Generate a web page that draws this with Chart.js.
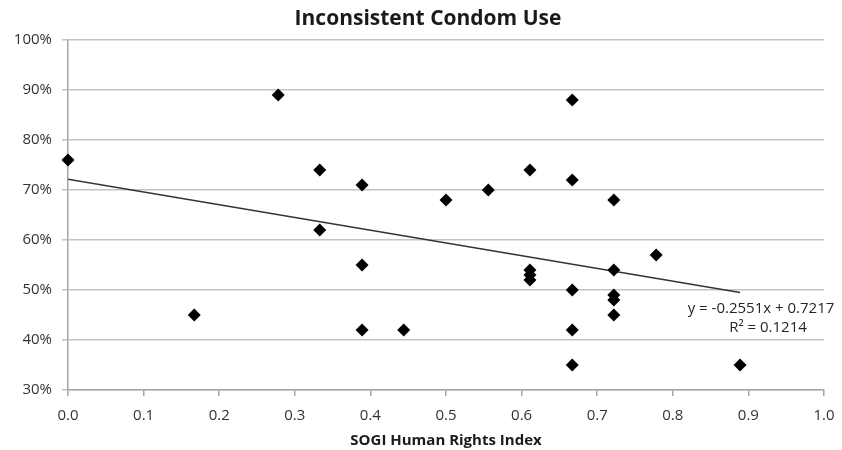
<!DOCTYPE html>
<html>
<head>
<meta charset="utf-8">
<script src="https://cdn.jsdelivr.net/npm/chart.js@4/dist/chart.umd.min.js"></script>
<style>
  html, body { margin: 0; padding: 0; background: #fff; }
  #wrap { width: 842px; height: 450px; }
</style>
</head>
<body>
<div id="wrap"><canvas id="scatterChart" width="842" height="450"></canvas></div>
<script>
// SOGI index (x) and inconsistent condom use share (y)
const sogiIndex = [0, 0.167, 0.278, 0.333, 0.333, 0.389, 0.389, 0.389, 0.444, 0.5, 0.556,
  0.611, 0.611, 0.611, 0.611, 0.667, 0.667, 0.667, 0.667, 0.667,
  0.722, 0.722, 0.722, 0.722, 0.722, 0.778, 0.889];
const condomUse = [0.76, 0.45, 0.89, 0.74, 0.62, 0.71, 0.55, 0.42, 0.42, 0.68, 0.70,
  0.74, 0.54, 0.53, 0.52, 0.88, 0.72, 0.50, 0.42, 0.35,
  0.68, 0.54, 0.49, 0.48, 0.45, 0.57, 0.35];
const trendSlope = -0.2551;
const trendIntercept = 0.7217;
const trendRange = [0, 0.889];
const yTicks = [0.3, 0.4, 0.5, 0.6, 0.7, 0.8, 0.9, 1.0];
const xTicks = [0, 0.1, 0.2, 0.3, 0.4, 0.5, 0.6, 0.7, 0.8, 0.9, 1.0];

const FONT = "'Open Sans', 'Noto Sans', sans-serif";

const points = sogiIndex.map((x, i) => ({ x: x, y: condomUse[i] }));
const trend = trendRange.map(x => ({ x: x, y: trendSlope * x + trendIntercept }));

const titlePlugin = {
  id: 'titleAndLabel',
  afterDraw(chart) {
    const ctx = chart.ctx;
    ctx.save();
    ctx.fillStyle = '#1a1a1a';
    ctx.font = 'bold 21px ' + FONT;
    ctx.textAlign = 'center';
    ctx.textBaseline = 'middle';
    ctx.fillText('Inconsistent Condom Use', 428, 19);

    ctx.fillStyle = '#262626';
    ctx.font = '15px ' + FONT;
    ctx.fillText('y = -0.2551x + 0.7217', 761, 309);
    ctx.fillText('R\u00B2 = 0.1214', 768, 328);
    ctx.restore();
  }
};

new Chart(document.getElementById('scatterChart').getContext('2d'), {
  type: 'scatter',
  data: {
    datasets: [
      {
        label: 'Countries',
        data: points,
        pointStyle: 'rectRot',
        pointRadius: 6.5,
        pointHoverRadius: 6.5,
        backgroundColor: '#000',
        borderColor: '#000',
        borderWidth: 0,
        clip: false,
        order: 1
      },
      {
        type: 'line',
        label: 'Trend',
        data: trend,
        borderColor: '#333',
        borderWidth: 1.5,
        pointRadius: 0,
        fill: false,
        order: 2
      }
    ]
  },
  options: {
    responsive: false,
    animation: false,
    layout: { padding: { top: 40, right: 18, left: 0, bottom: 0 } },
    plugins: { legend: { display: false }, tooltip: { enabled: false } },
    scales: {
      x: {
        type: 'linear',
        min: 0,
        max: 1,
        afterBuildTicks: s => { s.ticks = xTicks.map(v => ({ value: v })); },
        afterFit: s => { s.height = 60; s.paddingRight = 0; s.paddingLeft = 0; },
        border: { color: '#a6a6a6', width: 1.5 },
        grid: { drawOnChartArea: false, drawTicks: true, tickLength: 6, color: '#a6a6a6', lineWidth: 1.5 },
        ticks: {
          color: '#333',
          font: { family: FONT, size: 15 },
          padding: 11,
          callback: v => v.toFixed(1)
        },
        title: {
          display: true,
          text: 'SOGI Human Rights Index',
          color: '#1a1a1a',
          font: { family: FONT, size: 15, weight: 'bold' },
          padding: { top: 0, bottom: 0 }
        }
      },
      y: {
        min: 0.3,
        max: 1.0,
        afterBuildTicks: s => { s.ticks = yTicks.map(v => ({ value: v })); },
        afterFit: s => { s.width = 68; },
        border: { color: '#a6a6a6', width: 1.5 },
        grid: { color: '#c4c4c4', lineWidth: 1.5, drawTicks: true, tickLength: 6 },
        ticks: {
          color: '#333',
          font: { family: FONT, size: 15 },
          padding: 10,
          callback: v => Math.round(v * 100) + '%'
        }
      }
    }
  },
  plugins: [titlePlugin]
});
</script>
</body>
</html>
